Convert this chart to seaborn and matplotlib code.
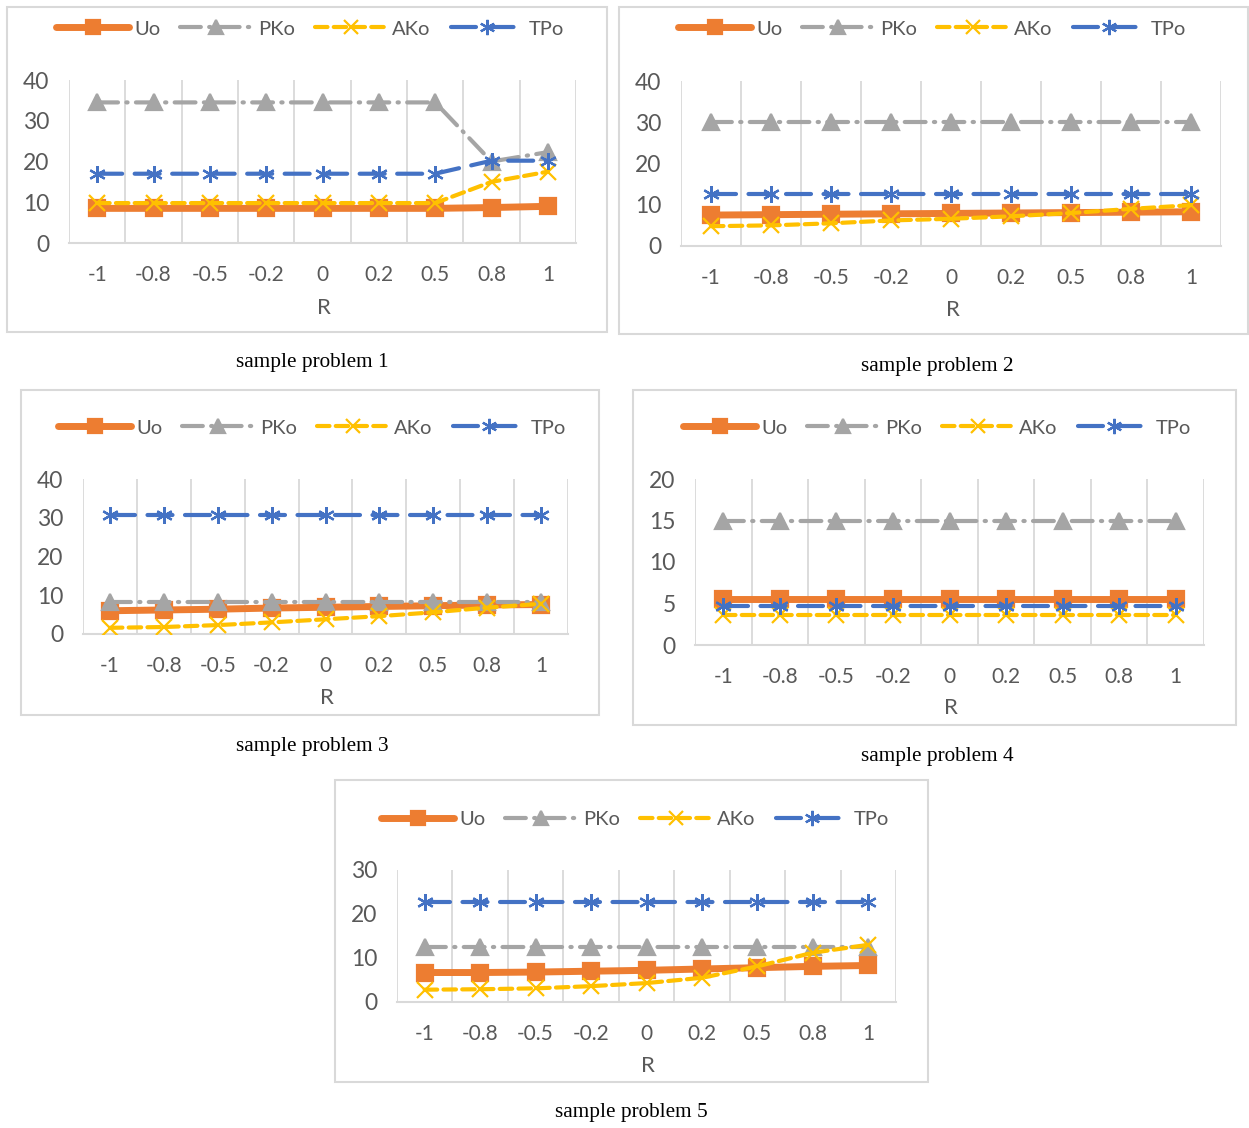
import numpy as np
import pandas as pd
import seaborn as sns
import matplotlib.pyplot as plt
from matplotlib.lines import Line2D
from matplotlib.patches import Rectangle

r_labels = ["-1", "-0.8", "-0.5", "-0.2", "0", "0.2", "0.5", "0.8", "1"]

# sample problem 1
p1_uo = [8.5, 8.5, 8.5, 8.5, 8.5, 8.5, 8.5, 8.7, 9.0]
p1_pko = [34.5, 34.5, 34.5, 34.5, 34.5, 34.5, 34.5, 20.0, 22.3]
p1_ako = [9.8, 9.8, 9.8, 9.8, 9.8, 9.8, 9.8, 15.0, 17.5]
p1_tpo = [17.0, 17.0, 17.0, 17.0, 17.0, 17.0, 17.0, 20.2, 20.2]

# sample problem 2
p2_uo = [7.5, 7.6, 7.7, 7.8, 7.9, 8.0, 8.1, 8.2, 8.3]
p2_pko = [30.0] * 9
p2_ako = [4.8, 5.0, 5.5, 6.2, 6.6, 7.2, 8.0, 9.0, 9.9]
p2_tpo = [12.7] * 9

# sample problem 3
p3_uo = [6.0, 6.2, 6.4, 6.7, 6.9, 7.1, 7.3, 7.5, 7.6]
p3_pko = [8.2] * 9
p3_ako = [1.6, 1.8, 2.3, 3.0, 3.8, 4.6, 5.6, 6.8, 7.8]
p3_tpo = [30.8] * 9

# sample problem 4
p4_uo = [5.6] * 9
p4_pko = [15.0] * 9
p4_ako = [3.6] * 9
p4_tpo = [4.7] * 9

# sample problem 5
p5_uo = [6.7, 6.7, 6.8, 7.0, 7.2, 7.5, 7.8, 8.1, 8.3]
p5_pko = [12.5] * 9
p5_ako = [2.8, 2.9, 3.1, 3.6, 4.3, 5.5, 8.1, 11.2, 13.0]
p5_tpo = [22.7] * 9

series_names = ["Uo", "PKo", "AKo", "TPo"]
colors = {"Uo": "#ED7D31", "PKo": "#A5A5A5", "AKo": "#FFC000", "TPo": "#4472C4"}
markers = {"Uo": "s", "PKo": "^", "AKo": "x", "TPo": (6, 2, 0)}
widths = {"Uo": 5.0, "PKo": 3.0, "AKo": 3.0, "TPo": 3.0}
dashes = {"Uo": None, "PKo": (5, 2, 0.3, 2), "AKo": (3, 1.5), "TPo": (6, 3)}
msizes = {"Uo": 11, "PKo": 11, "AKo": 11, "TPo": 12}

W, H = 1249, 1128
TXT = "#595959"
GRID = "#D9D9D9"

panels = [
    dict(data=[p1_uo, p1_pko, p1_ako, p1_tpo], frame=(7, 7, 607, 332), ax=(69, 80, 576, 243),
         ymax=40, step=10, leg=(310, 29), rlab=(324, 308), cap=(312, 363), title="sample problem 1"),
    dict(data=[p2_uo, p2_pko, p2_ako, p2_tpo], frame=(619, 7, 1248, 334), ax=(681, 81, 1221, 246),
         ymax=40, step=10, leg=(932, 29), rlab=(953, 310), cap=(937, 366), title="sample problem 2"),
    dict(data=[p3_uo, p3_pko, p3_ako, p3_tpo], frame=(21, 390, 599, 715), ax=(83, 479, 568, 634),
         ymax=40, step=10, leg=(312, 428), rlab=(327, 698), cap=(312, 746), title="sample problem 3"),
    dict(data=[p4_uo, p4_pko, p4_ako, p4_tpo], frame=(633, 390, 1236, 725), ax=(695, 479, 1204, 645),
         ymax=20, step=5, leg=(937, 428), rlab=(951, 708), cap=(937, 756), title="sample problem 4"),
    dict(data=[p5_uo, p5_pko, p5_ako, p5_tpo], frame=(335, 780, 928, 1082), ax=(397, 870, 896, 1002),
         ymax=30, step=10, leg=(635, 819), rlab=(648, 1066), cap=(631, 1113), title="sample problem 5"),
]

sns.set_style("white")
plt.rcParams["font.family"] = ["Lato", "DejaVu Sans"]

fig = plt.figure(figsize=(W / 100, H / 100), dpi=100)


def fx(x):
    return x / W


def fy(y):
    return 1 - y / H


for p in panels:
    x0, y0, x1, y1 = p["frame"]
    fig.patches.append(Rectangle((fx(x0), fy(y1)), fx(x1 - x0), (y1 - y0) / H,
                                 transform=fig.transFigure, fill=False,
                                 edgecolor=GRID, linewidth=1.5))
    a0, b0, a1, b1 = p["ax"]
    ax = fig.add_axes([fx(a0), fy(b1), fx(a1 - a0), (b1 - b0) / H])

    pos = np.arange(len(r_labels))
    for name, vals in zip(series_names, p["data"]):
        df = pd.DataFrame({"R": pos, "value": vals})
        sns.lineplot(data=df, x="R", y="value", ax=ax, color=colors[name],
                     linewidth=widths[name], marker=markers[name],
                     markersize=msizes[name], markeredgewidth=1.6,
                     markeredgecolor=colors[name], zorder=3)
        ln = ax.lines[-1]
        if dashes[name] is not None:
            ln.set_dashes(dashes[name])
            ln.set_dash_capstyle("round")
        else:
            ln.set_solid_capstyle("round")

    ax.set_xlim(-0.5, len(r_labels) - 0.5)
    ax.set_ylim(0, p["ymax"])
    ax.set_yticks(np.arange(0, p["ymax"] + 1, p["step"]))
    ax.set_xticks(pos)
    ax.set_xticklabels(r_labels)
    ax.set_xticks(np.arange(-0.5, len(r_labels)), minor=True)
    ax.grid(False)
    ax.grid(True, which="minor", axis="x", color=GRID, linewidth=1.3, zorder=0)
    ax.tick_params(which="both", length=0)
    ax.tick_params(axis="x", which="major", pad=16, labelsize=15, labelcolor=TXT)
    ax.tick_params(axis="y", pad=14, labelsize=16.5, labelcolor=TXT)
    for s in ["top", "right", "left"]:
        ax.spines[s].set_visible(False)
    ax.spines["bottom"].set_color(GRID)
    ax.spines["bottom"].set_linewidth(1.5)
    ax.set_xlabel("")
    ax.set_ylabel("")

    handles = []
    for name in series_names:
        h = Line2D([0], [0], color=colors[name], linewidth=widths[name],
                   marker=markers[name], markersize=msizes[name] - 1,
                   markeredgewidth=1.6, markeredgecolor=colors[name])
        if dashes[name] is not None:
            h.set_dashes(dashes[name])
            h.set_dash_capstyle("round")
        else:
            h.set_solid_capstyle("round")
        handles.append(h)
    lx, ly = p["leg"]
    fig.legend(handles, series_names, loc="center", bbox_to_anchor=(fx(lx), fy(ly)),
               ncol=4, frameon=False, fontsize=14.5, handlelength=3.6,
               columnspacing=1.0, handletextpad=0.25, labelcolor=TXT, numpoints=1)

    rx, ry = p["rlab"]
    fig.text(fx(rx), fy(ry), "R", ha="center", va="center", fontsize=16, color=TXT)
    cx, cy = p["cap"]
    fig.text(fx(cx), fy(cy), p["title"], ha="center", va="center", fontsize=15.3,
             color="black", family=["Liberation Serif", "DejaVu Serif"])

fig.savefig("out.png", dpi=100)
